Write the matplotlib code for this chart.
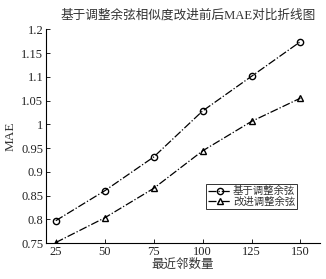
import matplotlib
matplotlib.use("Agg")
import matplotlib.pyplot as plt

plt.rcParams['font.family'] = ['Liberation Serif', 'Noto Sans CJK SC', 'DejaVu Sans']

neighbors = [25, 50, 75, 100, 125, 150]
mae_adjusted = [0.797, 0.860, 0.931, 1.028, 1.101, 1.174]
mae_improved = [0.751, 0.803, 0.865, 0.944, 1.006, 1.055]
series_labels = ['基于调整余弦', '改进调整余弦']
title = '基于调整余弦相似度改进前后MAE对比折线图'
xlabel = '最近邻数量'
ylabel = 'MAE'
yticks = [0.75, 0.8, 0.85, 0.9, 0.95, 1, 1.05, 1.1, 1.15, 1.2]
ytick_labels = ['0.75', '0.8', '0.85', '0.9', '0.95', '1', '1.05', '1.1', '1.15', '1.2']

fig = plt.figure(figsize=(3.26, 2.79), dpi=100)
ax = fig.add_axes([46/326, 1-243/279, 274/326, (243-29.3)/279])

ax.plot(neighbors, mae_adjusted, linestyle='-.', color='black', lw=0.9,
        marker='o', markersize=4.5, markerfacecolor='none', markeredgewidth=1.0,
        label=series_labels[0])
ax.plot(neighbors, mae_improved, linestyle='-.', color='black', lw=0.9,
        marker='^', markersize=4.5, markerfacecolor='none', markeredgewidth=1.0,
        label=series_labels[1])

ax.set_xlim(20, 160)
ax.set_ylim(0.75, 1.2)
ax.set_xticks(neighbors)
ax.set_yticks(yticks)
ax.set_yticklabels(ytick_labels)
for s in ['top', 'right']:
    ax.spines[s].set_visible(False)
for s in ['left', 'bottom']:
    ax.spines[s].set_linewidth(0.8)
ax.tick_params(direction='in', length=3, width=0.7, labelsize=9, colors='#222222', pad=2)

ax.set_title(title, fontsize=9.1, color='#333333', pad=8, x=0.52)
ax.set_xlabel(xlabel, fontsize=9, color='#333333', labelpad=1)
ax.set_ylabel(ylabel, fontsize=9.5, color='#333333', labelpad=3)

leg = ax.legend(loc='upper left', bbox_to_anchor=((206-46)/274, (243-184)/213.7),
                fontsize=7.5, frameon=True, fancybox=False, edgecolor='black',
                handlelength=2.2, handletextpad=0.2, borderpad=0.2, labelspacing=0.05,
                borderaxespad=0)
leg.get_frame().set_linewidth(0.7)
for t in leg.get_texts():
    t.set_color('#333333')

fig.savefig('out.png', dpi=100)
